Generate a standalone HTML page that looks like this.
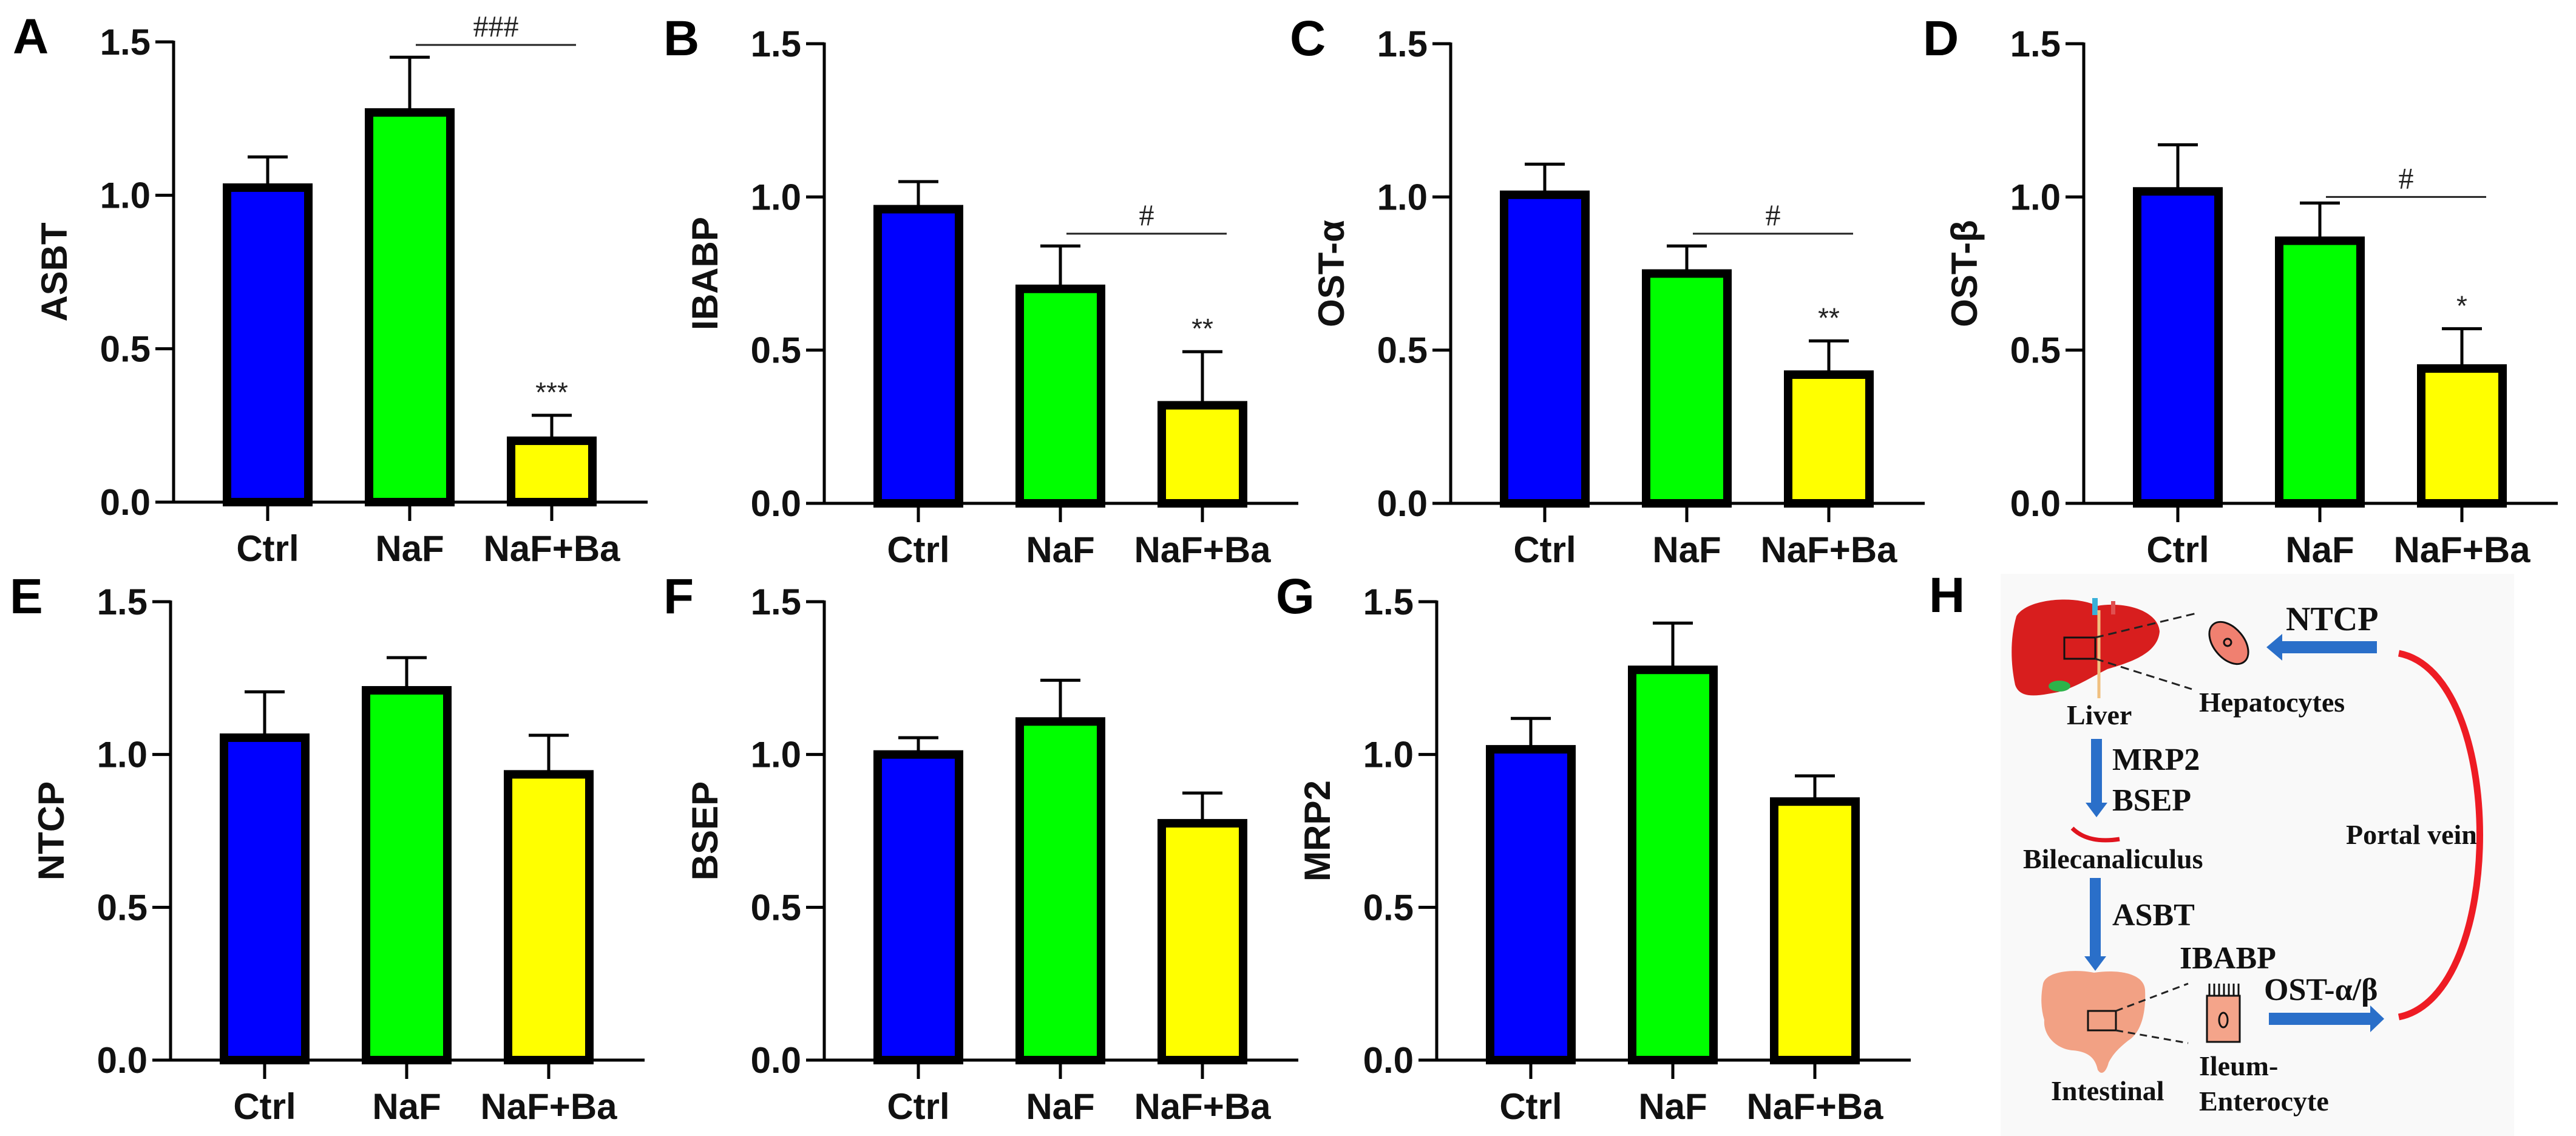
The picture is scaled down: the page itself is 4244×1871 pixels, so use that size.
<!DOCTYPE html>
<html><head><meta charset="utf-8">
<style>
html,body{margin:0;padding:0;background:#fff;}
svg{display:block;}
.tk{font-family:"Liberation Sans",Arial,sans-serif;font-weight:bold;font-size:60px;fill:#111;}
.lt{font-family:"Liberation Sans",Arial,sans-serif;font-weight:bold;font-size:82px;fill:#000;}
.sv{font-family:"Liberation Serif","Times New Roman",serif;font-weight:bold;fill:#111;}
</style></head>
<body>
<svg id="fig" width="4244" height="1871" viewBox="0 0 4244 1871" xmlns="http://www.w3.org/2000/svg">
<rect x="3296" y="945" width="846" height="926" fill="#f9f9f9"/>
<g id="charts"></g>

<g id="panelH">
  <text class="lt" x="3178" y="1008">H</text>
  <g>
    <path d="M3322,1015 C3340,985 3420,980 3455,998 C3500,990 3555,1005 3558,1040 C3555,1078 3505,1092 3472,1102 C3440,1118 3420,1132 3390,1140 C3358,1146 3328,1152 3320,1128 C3312,1090 3312,1050 3322,1015 Z" fill="#d81e1e"/>
    <ellipse cx="3393" cy="1130" rx="18" ry="9" fill="#2db34a"/>
    <rect x="3447" y="985" width="9" height="28" fill="#3ab0d8"/>
    <rect x="3478" y="990" width="7" height="22" fill="#e05050"/>
    <line x1="3458" y1="1005" x2="3458" y2="1150" stroke="#f0c080" stroke-width="5"/>
    <rect x="3401" y="1050" width="51" height="35" fill="none" stroke="#111" stroke-width="3"/>
    <line x1="3452" y1="1050" x2="3623" y2="1009" stroke="#222" stroke-width="3" stroke-dasharray="14,8"/>
    <line x1="3452" y1="1085" x2="3611" y2="1135" stroke="#222" stroke-width="3" stroke-dasharray="14,8"/>
  </g>
  <g>
    <ellipse cx="3672" cy="1059" rx="40" ry="25" transform="rotate(50 3672 1059)" fill="#f08070" stroke="#111" stroke-width="3"/>
    <circle cx="3670" cy="1058" r="6" fill="none" stroke="#111" stroke-width="3"/>
  </g>
  <text class="sv" x="3766" y="1038" font-size="56">NTCP</text>
  <path d="M3916,1056 L3760,1056 L3760,1044 L3734,1066 L3760,1088 L3760,1076 L3916,1076 Z" fill="#2a6fc9"/>
  <text class="sv" x="3623" y="1172" font-size="46">Hepatocytes</text>
  <text class="sv" x="3405" y="1193" font-size="46">Liver</text>
  <path d="M3445,1217 L3463,1217 L3463,1322 L3472,1322 L3454,1346 L3436,1322 L3445,1322 Z" fill="#2a6fc9"/>
  <text class="sv" x="3480" y="1268" font-size="52">MRP2</text>
  <text class="sv" x="3480" y="1335" font-size="52">BSEP</text>
  <path d="M3414,1364 Q3440,1390 3492,1382" fill="none" stroke="#e0141e" stroke-width="7"/>
  <text class="sv" x="3333" y="1430" font-size="46">Bilecanaliculus</text>
  <path d="M3443,1446 L3461,1446 L3461,1575 L3470,1575 L3452,1599 L3434,1575 L3443,1575 Z" fill="#2a6fc9"/>
  <text class="sv" x="3480" y="1524" font-size="52">ASBT</text>
  <text class="sv" x="3591" y="1595" font-size="52">IBABP</text>
  <text class="sv" x="3730" y="1647" font-size="52">OST-α/β</text>
  <path d="M3738,1668 L3905,1668 L3905,1656 L3928,1678 L3905,1700 L3905,1688 L3738,1688 Z" fill="#2a6fc9"/>
  <g>
    <path d="M3366,1620 C3372,1598 3420,1596 3450,1602 C3490,1596 3532,1603 3534,1630 C3536,1672 3526,1702 3506,1714 C3490,1727 3482,1735 3474,1750 C3470,1766 3462,1772 3456,1762 C3452,1742 3440,1732 3415,1730 C3384,1727 3366,1702 3368,1680 C3362,1660 3362,1640 3366,1620 Z" fill="#f2a184"/>
    <rect x="3440" y="1665" width="46" height="32" fill="none" stroke="#111" stroke-width="3"/>
    <line x1="3486" y1="1665" x2="3605" y2="1620" stroke="#222" stroke-width="3" stroke-dasharray="12,8"/>
    <line x1="3486" y1="1697" x2="3605" y2="1718" stroke="#222" stroke-width="3" stroke-dasharray="12,8"/>
  </g>
  <g>
    <rect x="3636" y="1640" width="54" height="76" fill="#f4a48a" stroke="#111" stroke-width="3"/>
    <path d="M3640,1640 L3640,1620 M3648,1640 L3648,1620 M3656,1640 L3656,1620 M3664,1640 L3664,1620 M3672,1640 L3672,1620 M3680,1640 L3680,1620 M3688,1640 L3688,1620" stroke="#111" stroke-width="3"/>
    <ellipse cx="3663" cy="1680" rx="7" ry="12" fill="none" stroke="#111" stroke-width="3"/>
  </g>
  <text class="sv" x="3379" y="1812" font-size="46">Intestinal</text>
  <text class="sv" x="3623" y="1771" font-size="46">Ileum-</text>
  <text class="sv" x="3623" y="1829" font-size="46">Enterocyte</text>
  <text class="sv" x="3865" y="1390" font-size="46">Portal vein</text>
  <path d="M3952,1076 C4130,1110 4130,1640 3952,1675" fill="none" stroke="#ee1c24" stroke-width="11"/>
</g>
</svg>

<script>
// ---- data ----
const categories = ["Ctrl", "NaF", "NaF+Ba"];
const yTickLabels = ["0.0", "0.5", "1.0", "1.5"];
const yTickValues = [0, 0.5, 1.0, 1.5];
const panelLetters = ["A", "B", "C", "D", "E", "F", "G"];
const panelTitles = ["ASBT", "IBABP", "OST-α", "OST-β", "NTCP", "BSEP", "MRP2"];
const meanASBT = [1.025, 1.27, 0.20];
const errASBT = [1.125, 1.45, 0.283];
const meanIBABP = [0.96, 0.70, 0.32];
const errIBABP = [1.05, 0.84, 0.495];
const meanOSTa = [1.007, 0.75, 0.42];
const errOSTa = [1.107, 0.84, 0.53];
const meanOSTb = [1.018, 0.857, 0.44];
const errOSTb = [1.17, 0.98, 0.57];
const meanNTCP = [1.055, 1.21, 0.935];
const errNTCP = [1.205, 1.317, 1.063];
const meanBSEP = [1.0, 1.108, 0.775];
const errBSEP = [1.055, 1.243, 0.874];
const meanMRP2 = [1.017, 1.277, 0.846];
const errMRP2 = [1.118, 1.43, 0.93];
const starLabels = ["***", "**", "**", "*", "", "", ""];
const hashLabels = ["###", "#", "#", "#", "", "", ""];
const hashLineValues = [1.49, 0.88, 0.88, 1.0, 0, 0, 0];

const means = [meanASBT, meanIBABP, meanOSTa, meanOSTb, meanNTCP, meanBSEP, meanMRP2];
const errs = [errASBT, errIBABP, errOSTa, errOSTb, errNTCP, errBSEP, errMRP2];
const colors = ["#0000ff", "#00ff00", "#ffff00"];

const layout = [
  {ax: 286, top: 69, bot: 827},
  {ax: 1358, top: 72, bot: 829},
  {ax: 2390, top: 72, bot: 829},
  {ax: 3433, top: 72, bot: 829},
  {ax: 281, top: 991, bot: 1746},
  {ax: 1358, top: 991, bot: 1746},
  {ax: 2367, top: 991, bot: 1746}
];
const NS = "http://www.w3.org/2000/svg";
const root = document.getElementById("charts");
function mk(tag, attrs, parent) {
  const e = document.createElementNS(NS, tag);
  for (const k in attrs) e.setAttribute(k, attrs[k]);
  (parent || root).appendChild(e);
  return e;
}
layout.forEach((L, p) => {
  const g = mk("g", {});
  
  
  const yScale = v => L.bot - v / 1.5 * (L.bot - L.top);
  const xScale = i => L.ax + 155 + i * 234;
  const lt = mk("text", {x: L.ax - 265, y: L.top + 19, class: "lt"}, g);
  lt.textContent = panelLetters[p];
  
  
  const cy = (L.top + L.bot) / 2;
  const yt = mk("text", {x: L.ax - 176, y: cy, class: "tk", "text-anchor": "middle", transform: "rotate(-90 " + (L.ax - 176) + " " + cy + ")", "font-size": "64"}, g);
  yt.textContent = panelTitles[p];
  
  
  means[p].forEach((v, i) => {
    const cx = xScale(i);
    const y0 = yScale(0), y1 = yScale(v), ye = yScale(errs[p][i]);
    const el = mk("line", {x1: cx, x2: cx, y1: y1, y2: ye, stroke: "#000", "stroke-width": 5}, g);
    
    
    const cap = mk("line", {x1: cx - 33, x2: cx + 33, y1: ye, y2: ye, stroke: "#000", "stroke-width": 5}, g);
    
    
    const r = mk("rect", {x: cx - 67, y: y1, width: 134, height: y0 - y1, fill: colors[i], stroke: "#000", "stroke-width": 14}, g);
    
    
    const t = mk("line", {x1: cx, x2: cx, y1: y0, y2: y0 + 31, stroke: "#000", "stroke-width": 5}, g);
    
    
    const tl = mk("text", {x: cx, y: y0 + 97, class: "tk", "text-anchor": "middle", "font-size": "58"}, g);
    tl.textContent = categories[i];
    
    
  });
  const ya = mk("line", {x1: L.ax, x2: L.ax, y1: L.top - 2, y2: L.bot + 2, stroke: "#000", "stroke-width": 5}, g);
  
  
  const xa = mk("line", {x1: L.ax - 30, x2: L.ax + 781, y1: L.bot, y2: L.bot, stroke: "#000", "stroke-width": 5}, g);
  
  
  yTickValues.forEach((v, k) => {
    const y = yScale(v);
    const t = mk("line", {x1: L.ax - 30, x2: L.ax, y1: y, y2: y, stroke: "#000", "stroke-width": 5}, g);
    
    
    const tl = mk("text", {x: L.ax - 38, y: y + 21, class: "tk", "text-anchor": "end"}, g);
    tl.textContent = yTickLabels[k];
    
    
  });
  if (starLabels[p]) {
    const s = mk("text", {x: xScale(2), y: yScale(errs[p][2]) - 22, "text-anchor": "middle", "font-family": "Liberation Sans, sans-serif", "font-size": "46", fill: "#222"}, g);
    s.textContent = starLabels[p];
    
    
  }
  if (hashLabels[p]) {
    const hy = yScale(hashLineValues[p]);
    const x1 = xScale(1) + 10, x2 = xScale(2) + 40;
    const hl = mk("line", {x1: x1, x2: x2, y1: hy, y2: hy, stroke: "#222", "stroke-width": 3}, g);
    
    
    const ht = mk("text", {x: (x1 + x2) / 2, y: hy - 14, "text-anchor": "middle", "font-family": "Liberation Serif, serif", "font-size": "50", fill: "#222"}, g);
    ht.textContent = hashLabels[p];
    
    
  }
});
</script>
</body></html>
